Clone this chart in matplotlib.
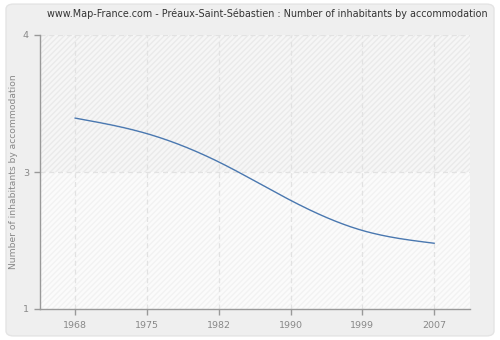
import numpy as np
import matplotlib
matplotlib.use("Agg")
import matplotlib.pyplot as plt
from matplotlib.patches import FancyBboxPatch, Rectangle

years = ["1968", "1975", "1982", "1990", "1999", "2007"]
values = [3.09, 2.92, 2.61, 2.19, 1.86, 1.72]
ytick_vals = [1, 2.5, 4]
ytick_labels = ["1", "3", "4"]
title = "www.Map-France.com - Préaux-Saint-Sébastien : Number of inhabitants by accommodation"
ylabel = "Number of inhabitants by accommodation"


def natural_spline(x, y, xs):
    x = np.asarray(x, float); y = np.asarray(y, float)
    n = len(x)
    h = np.diff(x)
    A = np.zeros((n, n)); b = np.zeros(n)
    A[0, 0] = 1; A[-1, -1] = 1
    for i in range(1, n - 1):
        A[i, i - 1] = h[i - 1]
        A[i, i] = 2 * (h[i - 1] + h[i])
        A[i, i + 1] = h[i]
        b[i] = 3 * ((y[i + 1] - y[i]) / h[i] - (y[i] - y[i - 1]) / h[i - 1])
    c = np.linalg.solve(A, b)
    out = np.empty_like(xs)
    for k, xv in enumerate(xs):
        i = min(max(np.searchsorted(x, xv) - 1, 0), n - 2)
        d = xv - x[i]
        bi = (y[i + 1] - y[i]) / h[i] - h[i] * (2 * c[i] + c[i + 1]) / 3
        di = (c[i + 1] - c[i]) / (3 * h[i])
        out[k] = y[i] + bi * d + c[i] * d ** 2 + di * d ** 3
    return out


fig = plt.figure(figsize=(5, 3.4), dpi=100)
fig.patch.set_facecolor("white")
panel = FancyBboxPatch((0.012, 0.012), 0.976, 0.976, boxstyle="round,pad=0,rounding_size=0.015",
                       transform=fig.transFigure, facecolor="#efefef", edgecolor="#e4e4e4",
                       linewidth=1, zorder=-10)
fig.patches.append(panel)

ax = fig.add_axes([40 / 500, 1 - 309 / 340, 430 / 500, 274 / 340])
ax.set_facecolor("#fafafa")
xpos = np.arange(len(years))
ax.set_xlim(-0.49, 5.5)
ax.set_ylim(1, 4)

# background halves with hatch
ax.add_patch(Rectangle((-0.49, 2.5), 6, 1.5, facecolor="#f6f6f6", edgecolor="#eaeaea",
                       hatch="//////", linewidth=0, zorder=0))
ax.add_patch(Rectangle((-0.49, 1), 6, 1.5, facecolor="#fbfbfb", edgecolor="#f2f2f2",
                       hatch="//////", linewidth=0, zorder=0))

for xp in xpos:
    ax.axvline(xp, color="#e2e2e2", linestyle=(0, (4, 3)), linewidth=0.9, zorder=1)
for yv in [2.5, 4]:
    ax.axhline(yv, color="#e2e2e2", linestyle=(0, (4, 3)), linewidth=0.9, zorder=1)

xs = np.linspace(0, len(years) - 1, 300)
ys = natural_spline(xpos, values, xs)
ax.plot(xs, ys, color="#4a78b0", linewidth=1.0, zorder=3)

ax.set_xticks(xpos)
ax.set_xticklabels(years)
ax.set_yticks(ytick_vals)
ax.set_yticklabels(ytick_labels)
for s in ["top", "right"]:
    ax.spines[s].set_visible(False)
for s in ["left", "bottom"]:
    ax.spines[s].set_color("#999999")
    ax.spines[s].set_linewidth(1)
ax.tick_params(axis="both", colors="#999999", labelcolor="#888888", labelsize=6.8,
               length=4, width=1, direction="out")
ax.tick_params(axis="x", pad=5)
ax.tick_params(axis="y", pad=4)

fig.text(267 / 500, 1 - 14 / 340, title, ha="center", va="center", fontsize=6.9, color="#333333")
fig.text(14 / 500, 1 - 172 / 340, ylabel, ha="center", va="center", rotation=90,
         fontsize=6.6, color="#888888")

fig.savefig("out.png", dpi=100, facecolor=fig.get_facecolor())
